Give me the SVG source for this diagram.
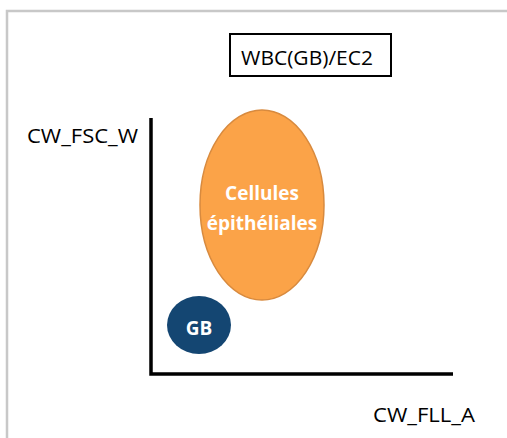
<svg xmlns="http://www.w3.org/2000/svg" width="507" height="438" viewBox="0 0 507 438">
<style>
.lbl{font-family:"Open Sans","Liberation Sans",sans-serif;font-size:20px;fill:#000}
.in{font-family:"Open Sans","Liberation Sans",sans-serif;font-weight:bold;fill:#fff;text-anchor:middle}
</style>
<rect x="0" y="0" width="507" height="438" fill="#fff"/>
<path d="M7 440 V11 H510" fill="none" stroke="#c8c8c8" stroke-width="2.5"/>
<g id="title">
<rect x="230" y="34" width="161" height="42" fill="#fff" stroke="#000" stroke-width="2"/>
<text class="lbl" x="241" y="65" font-size="21" textLength="132" lengthAdjust="spacingAndGlyphs">WBC(GB)/EC2</text>
</g>
<g id="axes">
<path d="M151 118 V374 H453" fill="none" stroke="#000" stroke-width="3.5"/>
</g>
<g id="ylabel"><text class="lbl" x="27" y="143" textLength="111" lengthAdjust="spacingAndGlyphs">CW_FSC_W</text></g>
<g id="xlabel"><text class="lbl" x="373" y="422" textLength="102" lengthAdjust="spacingAndGlyphs">CW_FLL_A</text></g>
<g id="epith">
<ellipse cx="262" cy="205" rx="62" ry="95" fill="#fba348" stroke="#d88a3e" stroke-width="1.5"/>
<text class="in" x="262" y="200" font-size="19">Cellules</text>
<text class="in" x="262" y="230" font-size="19">épithéliales</text>
</g>
<g id="gb">
<ellipse cx="199" cy="325" rx="32" ry="29" fill="#144672"/>
<text class="in" x="199" y="335" font-size="19">GB</text>
</g>
</svg>
